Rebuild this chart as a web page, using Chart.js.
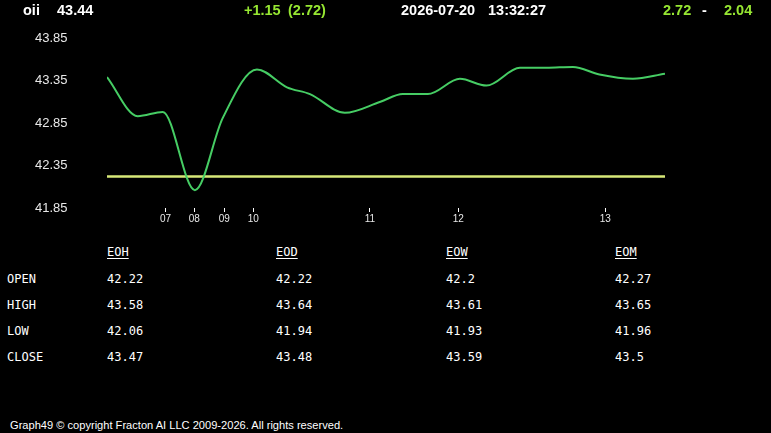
<!DOCTYPE html>
<html>
<head>
<meta charset="utf-8">
<script src="https://cdn.jsdelivr.net/npm/chart.js@4"></script>
<style>
  body { margin: 0; background: #000; width: 771px; height: 433px; overflow: hidden; position: relative; }
  .hd { position: absolute; top: 2px; line-height: 16px; font: bold 14.5px "Liberation Sans", Arial, sans-serif; color: #fff; white-space: nowrap; }
  .up { color: #96e632; }
  .tb { position: absolute; font: 12px "DejaVu Sans Mono", monospace; color: #fff; line-height: 14px; white-space: nowrap; }
  .tb.h { text-decoration: underline; text-underline-offset: 2px; }
  #foot { position: absolute; left: 10px; top: 419px; font: 11.1px "Liberation Sans", Arial, sans-serif; color: #fff; }
  #c { position: absolute; left: 0; top: 0; }
</style>
</head>
<body>
<canvas id="c" width="771" height="232"></canvas>
<div id="header"></div>
<div id="table"></div>
<div id="foot">Graph49 © copyright Fracton AI LLC 2009-2026. All rights reserved.</div>
<script>
/* DATOS */
const symbol = 'oii';
const lastPrice = '43.44';
const change = '+1.15';
const changeRange = '(2.72)';
const stamp = ['2026-07-20', '13:32:27'];
const rangeHi = '2.72';
const rangeLo = '2.04';

// indice de barra (eje x) y precio
const xIdx  = [0, 2.2, 4.0, 6.3, 8.3, 10.75, 12.9, 14.55, 17.05, 19.6, 21.2, 23.0, 25.3, 27.2, 29.6, 31.5, 33.4, 35.3, 37.7, 40];
const price = [43.39, 42.93, 42.98, 42.06, 42.91, 43.48, 43.27, 43.19, 42.97, 43.10, 43.19, 43.19, 43.37, 43.29, 43.50, 43.50, 43.51, 43.42, 43.37, 43.43];

const hourTicks  = [4.2, 6.26, 8.41, 10.49, 18.85, 25.18, 35.72];
const hourLabels = ['07', '08', '09', '10', '11', '12', '13'];
const yTicks = [41.85, 42.35, 42.85, 43.35, 43.85];

const colLabels = ['EOH', 'EOD', 'EOW', 'EOM'];
const rowLabels = ['OPEN', 'HIGH', 'LOW', 'CLOSE'];
const eoh = ['42.22', '43.58', '42.06', '43.47'];
const eod = ['42.22', '43.64', '41.94', '43.48'];
const eow = ['42.2', '43.61', '41.93', '43.59'];
const eom = ['42.27', '43.65', '41.96', '43.5'];
const openLevel = Number(eoh[0]);

/* CABECERA */
const header = document.getElementById('header');
function addHd(text, left, cls) {
  const s = document.createElement('span');
  s.className = 'hd' + (cls ? ' ' + cls : '');
  s.style.left = left + 'px';
  s.textContent = text;
  header.appendChild(s);
}
addHd(symbol, 23);
addHd(lastPrice, 57);
addHd(change, 244, 'up');
addHd(changeRange, 288, 'up');
addHd(stamp[0], 401);
addHd(stamp[1], 488);
addHd(rangeHi, 663, 'up');
addHd('-', 702);
addHd(rangeLo, 724, 'up');

/* TABLA */
const table = document.getElementById('table');
const colX = [107, 276, 446, 615];
const cols = [eoh, eod, eow, eom];
function addCell(text, left, top, cls) {
  const d = document.createElement('div');
  d.className = 'tb' + (cls ? ' ' + cls : '');
  d.style.left = left + 'px';
  d.style.top = top + 'px';
  d.textContent = text;
  table.appendChild(d);
}
colLabels.forEach((c, i) => addCell(c, colX[i], 245, 'h'));
rowLabels.forEach((r, j) => {
  const top = 272 + j * 26;
  addCell(r, 7, top);
  cols.forEach((col, i) => addCell(col[j], colX[i], top));
});

/* GRAFICO */
const config = {
  type: 'line',
  data: {
    datasets: [{
      data: xIdx.map((x, i) => ({ x: x, y: price[i] })),
      borderColor: 'rgb(70, 205, 100)',
      borderWidth: 2,
      pointRadius: 0,
      cubicInterpolationMode: 'monotone',
      fill: false
    }, {
      data: [{ x: xIdx[0], y: openLevel }, { x: xIdx[xIdx.length - 1], y: openLevel }],
      borderColor: 'rgb(215, 232, 120)',
      borderWidth: 2.5,
      pointRadius: 0,
      fill: false
    }]
  },
  options: {
    responsive: false,
    animation: false,
    devicePixelRatio: 1,
    layout: { padding: { top: 38, right: 106, left: 35, bottom: 0 } },
    plugins: { legend: { display: false }, tooltip: { enabled: false } },
    scales: {
      x: {
        type: 'linear',
        min: 0,
        max: 40,
        afterBuildTicks: s => { s.ticks = hourTicks.map(v => ({ value: v })); },
        afterFit: s => { s.height = 24; },
        ticks: {
          autoSkip: false,
          maxRotation: 0,
          padding: 1,
          color: '#e8e8e8',
          font: { family: 'Liberation Sans', size: 10 },
          callback: (v, i) => hourLabels[i]
        },
        grid: { drawOnChartArea: false, color: '#fff', tickLength: 4 },
        border: { display: false }
      },
      y: {
        min: yTicks[0],
        max: yTicks[yTicks.length - 1],
        afterBuildTicks: s => { s.ticks = yTicks.map(v => ({ value: v })); },
        afterFit: s => { s.width = 72; },
        ticks: {
          padding: 0,
          crossAlign: 'far',
          color: '#e8e8e8',
          font: { family: 'Liberation Sans', size: 13 },
          callback: v => v.toFixed(2)
        },
        grid: { display: false, drawTicks: false },
        border: { display: false }
      }
    }
  }
};

const chart = new Chart(document.getElementById('c'), config);
</script>
</body>
</html>
